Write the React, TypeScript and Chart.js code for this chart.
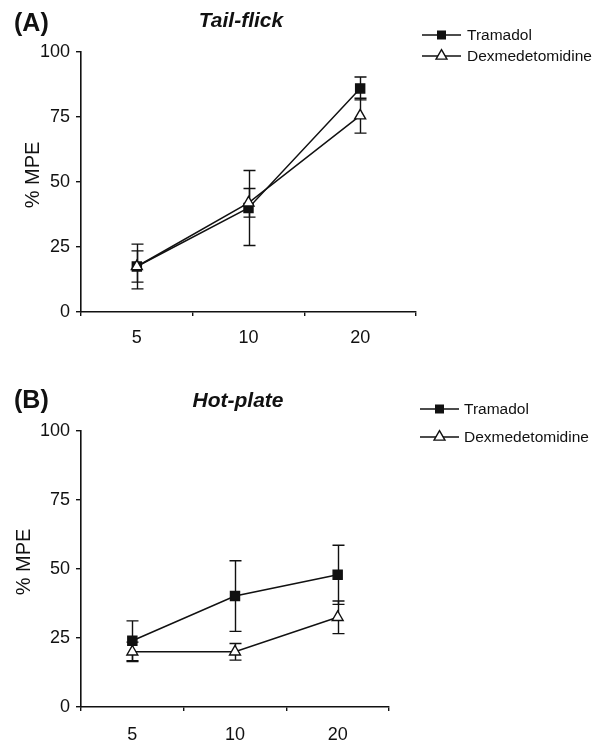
import React, { useEffect, useRef } from 'react';
import { Chart, registerables } from 'chart.js';

Chart.register(...registerables);

// ---- Data ----
const doses = ['5', '10', '20'];
const yTicks = [0, 25, 50, 75, 100];
const seriesNames = ['Tramadol', 'Dexmedetomidine'];
const seriesStyles = ['rect', 'triangle'];

const tailTramadol = [17.5, 40, 86];
const tailTramadolErr = [8.6, 14.4, 4.4];
const tailDexmed = [17.5, 42, 75.5];
const tailDexmedErr = [6, 5.5, 6.7];

const hotTramadol = [24, 40.2, 47.9];
const hotTramadolErr = [7.2, 12.8, 10.7];
const hotDexmed = [20, 20, 32.5];
const hotDexmedErr = [3.5, 3, 5.9];

const INK = '#111';
const FONT = '"Liberation Sans", Arial, Helvetica, sans-serif';

function drawMarker(ctx: CanvasRenderingContext2D, style: string, x: number, y: number) {
  ctx.save();
  ctx.beginPath();
  ctx.lineWidth = 1.4;
  ctx.strokeStyle = INK;
  if (style === 'rect') {
    const s = 4.5;
    ctx.rect(x - s, y - s, 2 * s, 2 * s);
    ctx.fillStyle = INK;
    ctx.fill();
  } else {
    const r = 6.3;
    ctx.moveTo(x, y - r);
    ctx.lineTo(x + r * Math.sin((2 * Math.PI) / 3), y - r * Math.cos((2 * Math.PI) / 3));
    ctx.lineTo(x + r * Math.sin((4 * Math.PI) / 3), y - r * Math.cos((4 * Math.PI) / 3));
    ctx.closePath();
    ctx.fillStyle = '#fff';
    ctx.fill();
    ctx.stroke();
  }
  ctx.restore();
}

type PanelCfg = {
  letter: string;
  title: string;
  values: number[][];
  errors: number[][];
  height: number;
  area: { left: number; right: number; top: number; bottom: number };
  letterPos: [number, number];
  titlePos: [number, number];
  legend: { x0: number; x1: number; tx: number; rows: number[] };
  ylabelPos: [number, number];
  xPad: number;
};

function buildChart(canvas: HTMLCanvasElement, cfg: PanelCfg) {
  const errPlugin = {
    id: 'errbars',
    beforeDatasetsDraw(chart: any) {
      const ctx = chart.ctx as CanvasRenderingContext2D;
      const xs = chart.scales.x;
      const ys = chart.scales.y;
      ctx.save();
      ctx.strokeStyle = INK;
      ctx.lineWidth = 1.4;
      cfg.values.forEach((vals, i) => {
        vals.forEach((v, j) => {
          const e = cfg.errors[i][j];
          const px = Math.round(xs.getPixelForValue(j)) + 0.5;
          const pt = ys.getPixelForValue(v + e);
          const pb = ys.getPixelForValue(v - e);
          const cap = 6;
          ctx.beginPath();
          ctx.moveTo(px, pt);
          ctx.lineTo(px, pb);
          ctx.moveTo(px - cap, pt);
          ctx.lineTo(px + cap, pt);
          ctx.moveTo(px - cap, pb);
          ctx.lineTo(px + cap, pb);
          ctx.stroke();
        });
      });
      ctx.restore();
    },
  };

  const decor = {
    id: 'decor',
    afterDraw(chart: any) {
      const ctx = chart.ctx as CanvasRenderingContext2D;
      ctx.save();
      ctx.fillStyle = INK;
      ctx.textBaseline = 'alphabetic';
      ctx.textAlign = 'left';
      ctx.font = `bold 25px ${FONT}`;
      ctx.fillText(cfg.letter, cfg.letterPos[0], cfg.letterPos[1]);
      ctx.textAlign = 'center';
      ctx.font = `italic bold 21px ${FONT}`;
      ctx.fillText(cfg.title, cfg.titlePos[0], cfg.titlePos[1]);

      // y axis label
      ctx.save();
      ctx.translate(cfg.ylabelPos[0], cfg.ylabelPos[1]);
      ctx.rotate(-Math.PI / 2);
      ctx.font = `20px ${FONT}`;
      ctx.textBaseline = 'middle';
      ctx.textAlign = 'center';
      ctx.fillText('% MPE', 0, 0);
      ctx.restore();

      // legend
      const lg = cfg.legend;
      seriesNames.forEach((name, i) => {
        const y = lg.rows[i];
        ctx.beginPath();
        ctx.strokeStyle = INK;
        ctx.lineWidth = 1.4;
        ctx.moveTo(lg.x0, y);
        ctx.lineTo(lg.x1, y);
        ctx.stroke();
        drawMarker(ctx, seriesStyles[i], (lg.x0 + lg.x1) / 2, y);
        ctx.font = `15.5px ${FONT}`;
        ctx.textAlign = 'left';
        ctx.textBaseline = 'middle';
        ctx.fillStyle = INK;
        ctx.fillText(name, lg.tx, y + 1);
      });
      ctx.restore();
    },
  };

  const datasets = cfg.values.map((vals, i) => ({
    label: seriesNames[i],
    data: vals,
    borderColor: INK,
    borderWidth: 1.5,
    pointStyle: seriesStyles[i],
    pointRadius: seriesStyles[i] === 'rect' ? 6.4 : 6.3,
    pointBackgroundColor: seriesStyles[i] === 'rect' ? INK : '#fff',
    pointBorderColor: INK,
    pointBorderWidth: 1.4,
    tension: 0,
    fill: false,
    clip: false as any,
    order: i === 0 ? 1 : 0,
  }));

  return new Chart(canvas, {
    type: 'line',
    data: { labels: doses, datasets },
    plugins: [errPlugin, decor],
    options: {
      animation: false,
      responsive: false,
      devicePixelRatio: 1,
      events: [],
      layout: {
        padding: {
          left: 0,
          top: cfg.area.top,
          right: 603 - cfg.area.right,
          bottom: 0,
        },
      },
      plugins: {
        legend: { display: false },
        tooltip: { enabled: false },
        title: { display: false },
      },
      scales: {
        x: {
          type: 'category',
          offset: true,
          afterFit: (s: any) => {
            s.height = cfg.height - cfg.area.bottom;
          },
          grid: {
            offset: true,
            drawOnChartArea: false,
            drawTicks: true,
            tickLength: 4,
            color: INK,
            lineWidth: 1.4,
          },
          border: { display: true, color: INK, width: 1.6 },
          ticks: {
            color: INK,
            font: { family: FONT, size: 18 },
            padding: cfg.xPad,
            maxRotation: 0,
          },
        },
        y: {
          type: 'linear',
          min: 0,
          max: 100,
          afterFit: (s: any) => {
            s.width = cfg.area.left;
          },
          afterBuildTicks: (s: any) => {
            s.ticks = yTicks.map((v) => ({ value: v }));
          },
          grid: {
            drawOnChartArea: false,
            drawTicks: true,
            tickLength: 5,
            color: INK,
            lineWidth: 1.4,
          },
          border: { display: true, color: INK, width: 1.6 },
          ticks: {
            color: INK,
            font: { family: FONT, size: 18 },
            padding: 6,
          },
        },
      },
    } as any,
  });
}

const panelA: PanelCfg = {
  letter: '(A)',
  title: 'Tail-flick',
  values: [tailTramadol, tailDexmed],
  errors: [tailTramadolErr, tailDexmedErr],
  height: 370,
  area: { left: 81, right: 416, top: 52, bottom: 312 },
  letterPos: [14, 31],
  titlePos: [241, 27],
  legend: { x0: 422, x1: 461, tx: 467, rows: [35, 56] },
  ylabelPos: [33, 175],
  xPad: 11,
};

const panelB: PanelCfg = {
  letter: '(B)',
  title: 'Hot-plate',
  values: [hotTramadol, hotDexmed],
  errors: [hotTramadolErr, hotDexmedErr],
  height: 372,
  area: { left: 81, right: 389, top: 61, bottom: 337 },
  letterPos: [14, 38],
  titlePos: [238, 37],
  legend: { x0: 420, x1: 459, tx: 464, rows: [39, 67] },
  ylabelPos: [24, 192],
  xPad: 13,
};

function Panel({ cfg, top }: { cfg: PanelCfg; top: number }) {
  const ref = useRef<HTMLCanvasElement | null>(null);
  useEffect(() => {
    if (!ref.current) return;
    const chart = buildChart(ref.current, cfg);
    return () => chart.destroy();
  }, [cfg]);
  return (
    <canvas
      ref={ref}
      width={603}
      height={cfg.height}
      style={{ position: 'absolute', left: 0, top, width: 603, height: cfg.height, display: 'block' }}
    />
  );
}

export default function App() {
  return (
    <div style={{ position: 'absolute', left: 0, top: 0, width: 603, height: 742, background: '#fff' }}>
      <Panel cfg={panelA} top={0} />
      <Panel cfg={panelB} top={370} />
    </div>
  );
}
